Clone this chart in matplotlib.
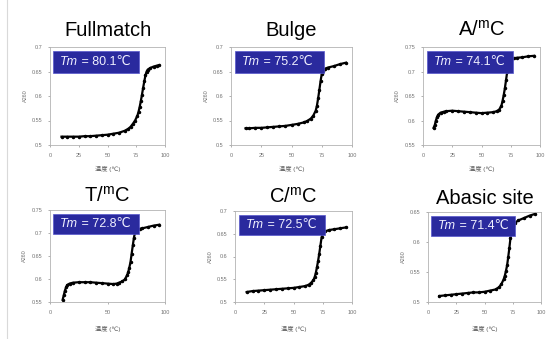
import matplotlib
matplotlib.use('Agg')
import matplotlib.pyplot as plt
import matplotlib.patches as patches
from matplotlib.lines import Line2D
from matplotlib.ticker import FuncFormatter

plt.rcParams['font.family'] = ['Liberation Sans', 'DejaVu Sans', 'Noto Sans CJK JP']
plt.rcParams['mathtext.fontset'] = 'custom'
plt.rcParams['mathtext.rm'] = 'Liberation Sans'

# ── 융해곡선 (온도 ℃, A260) ──
FULL_T = [10, 15, 20, 25, 30, 35, 40, 45, 50, 55, 60, 65, 68, 70, 72, 74, 76, 77,
          78, 79, 80, 81, 82, 83, 84, 85, 87, 90, 93, 95]
FULL_A = [0.517, 0.517, 0.517, 0.517, 0.518, 0.518, 0.519, 0.520, 0.521, 0.523,
          0.525, 0.529, 0.533, 0.537, 0.543, 0.550, 0.560, 0.568, 0.578, 0.590,
          0.603, 0.617, 0.630, 0.642, 0.650, 0.654, 0.657, 0.660, 0.662, 0.663]

BULGE_T = [12, 15, 20, 25, 30, 35, 40, 45, 50, 55, 60, 63, 66, 68, 70, 71, 72, 73,
           74, 75, 76, 78, 80, 85, 90, 95]
BULGE_A = [0.534, 0.534, 0.535, 0.535, 0.536, 0.537, 0.538, 0.539, 0.541, 0.543,
           0.546, 0.549, 0.554, 0.560, 0.570, 0.580, 0.595, 0.612, 0.630, 0.645,
           0.652, 0.656, 0.658, 0.661, 0.665, 0.668]

AMC_T = [9, 10, 11, 12, 13, 15, 18, 20, 25, 30, 35, 40, 45, 50, 55, 60, 63, 65, 67,
         68, 69, 70, 71, 72, 73, 74, 75, 78, 80, 85, 90, 95]
AMC_A = [0.585, 0.590, 0.600, 0.607, 0.612, 0.616, 0.618, 0.619, 0.620, 0.619,
         0.618, 0.617, 0.616, 0.615, 0.616, 0.617, 0.619, 0.622, 0.630, 0.640,
         0.652, 0.666, 0.683, 0.700, 0.713, 0.720, 0.724, 0.727, 0.728, 0.729,
         0.731, 0.732]

TMC_T = [11, 12, 13, 14, 15, 17, 20, 25, 30, 35, 40, 45, 50, 55, 58, 60, 63, 65, 67,
         68, 69, 70, 71, 72, 73, 74, 75, 78, 80, 85, 90, 95]
TMC_A = [0.555, 0.565, 0.575, 0.582, 0.587, 0.590, 0.592, 0.593, 0.593, 0.593,
         0.592, 0.591, 0.590, 0.589, 0.590, 0.592, 0.595, 0.599, 0.608, 0.615,
         0.625, 0.637, 0.655, 0.673, 0.690, 0.702, 0.706, 0.709, 0.710, 0.713,
         0.716, 0.718]

CMC_T = [10, 15, 20, 25, 30, 35, 40, 45, 50, 55, 60, 63, 65, 67, 68, 69, 70, 71, 72,
         73, 74, 75, 77, 80, 85, 90, 95]
CMC_A = [0.522, 0.524, 0.525, 0.526, 0.527, 0.528, 0.529, 0.530, 0.531, 0.533,
         0.535, 0.538, 0.542, 0.548, 0.554, 0.563, 0.576, 0.590, 0.606, 0.624,
         0.642, 0.651, 0.655, 0.658, 0.660, 0.662, 0.664]

ABA_T = [10, 15, 20, 25, 30, 35, 40, 45, 50, 55, 60, 63, 65, 67, 68, 69, 70, 71, 72,
         73, 74, 75, 77, 80, 85, 90, 95]
ABA_A = [0.510, 0.511, 0.512, 0.513, 0.514, 0.515, 0.516, 0.516, 0.517, 0.519,
         0.521, 0.525, 0.530, 0.538, 0.544, 0.552, 0.561, 0.575, 0.590, 0.607,
         0.620, 0.627, 0.632, 0.636, 0.640, 0.644, 0.647]

TITLES = ['Fullmatch', 'Bulge', r'A/$^{\mathrm{m}}$C', r'T/$^{\mathrm{m}}$C',
          r'C/$^{\mathrm{m}}$C', 'Abasic site']
TMS = ['80.1', '75.2', '74.1', '72.8', '72.5', '71.4']
YTICKS = [[0.5, 0.55, 0.6, 0.65, 0.7], [0.5, 0.55, 0.6, 0.65, 0.7],
          [0.55, 0.6, 0.65, 0.7, 0.75], [0.55, 0.6, 0.65, 0.7, 0.75],
          [0.5, 0.55, 0.6, 0.65, 0.7], [0.5, 0.55, 0.6, 0.65]]
XTICKS = [[0, 25, 50, 75, 100]] * 3 + [[0, 50, 100], [0, 25, 50, 75, 100], [0, 25, 50, 75, 100]]
DATA = [(FULL_T, FULL_A), (BULGE_T, BULGE_A), (AMC_T, AMC_A),
        (TMC_T, TMC_A), (CMC_T, CMC_A), (ABA_T, ABA_A)]

W, H = 550, 339
# 패널 위치 (픽셀: 왼쪽, 위, 폭, 높이)
BOXES = [(50, 47, 115, 98), (231, 47, 121, 98), (423, 47, 117, 98),
         (50, 210, 115, 92), (235, 211, 117, 91), (428, 212, 113, 90)]
BLUE = '#2a2a9e'

fig = plt.figure(figsize=(W / 100, H / 100), dpi=100)
fig.add_artist(Line2D([7 / W, 7 / W], [0, 1], color='0.85', lw=0.8))

for i, (l, t, w, h) in enumerate(BOXES):
    ax = fig.add_axes([l / W, (H - t - h) / H, w / W, h / H])
    tx, ay = DATA[i]
    ax.plot(tx, ay, '-', color='k', lw=1.6, zorder=2)
    ax.plot(tx, ay, 'o', color='k', ms=1.5, zorder=2)
    yt = YTICKS[i]
    ax.set_ylim(yt[0], yt[-1])
    ax.set_yticks(yt)
    ax.set_xlim(0, 100)
    ax.set_xticks(XTICKS[i])
    ax.yaxis.set_major_formatter(FuncFormatter(lambda v, p: f'{v:g}'))
    ax.tick_params(labelsize=4, length=1.5, width=0.4, colors='0.45', pad=4)
    for s in ax.spines.values():
        s.set_color('0.7')
        s.set_linewidth(0.6)
    row2 = i >= 3
    ax.set_ylabel('A260', fontsize=4, color='0.45', labelpad=3)
    ax.set_xlabel('温度 (℃)', fontsize=4.5, color='0.35', labelpad=8 if row2 else 6)
    ax.set_title(TITLES[i], fontsize=14.5, pad=6 if row2 else 8)
    ax.add_patch(patches.Rectangle((0.03, 0.735), 0.74, 0.225, transform=ax.transAxes,
                                   facecolor=BLUE, edgecolor='#5555cc', lw=0.5, zorder=5))
    # Tm (이탤릭) + " = xx.x℃" 이어붙이기
    t1 = ax.text(0.09, 0.848, 'Tm', transform=ax.transAxes, ha='left', va='center',
                 color='#f0f0ff', fontsize=9, style='italic', zorder=6)
    ax.annotate(f' = {TMS[i]}℃', xy=(1, 0.5), xycoords=t1, ha='left', va='center',
                color='#f0f0ff', fontsize=9, zorder=6,
                family=['Liberation Sans', 'DejaVu Sans'])

fig.savefig('out.png', dpi=100)
